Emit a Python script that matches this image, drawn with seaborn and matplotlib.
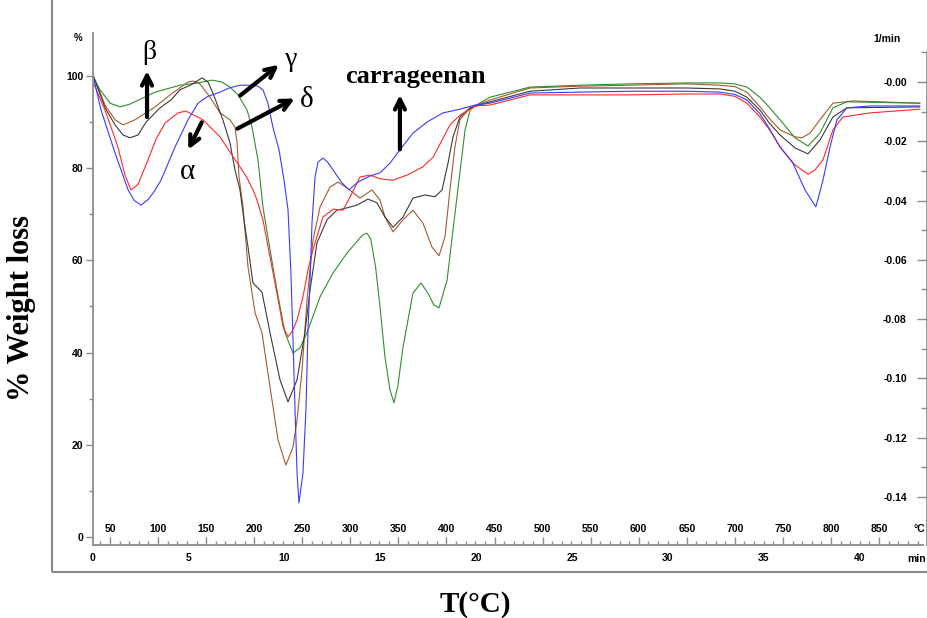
import numpy as np
import pandas as pd
import matplotlib
matplotlib.use("Agg")
import matplotlib.pyplot as plt
import seaborn as sns
from matplotlib.patches import Rectangle
from matplotlib.ticker import FixedLocator

# --- values: time (min) and signal on the % scale ---
carr_t = [0, 0.42, 1.15, 1.83, 2.15, 2.51, 2.9, 3.2, 3.55, 4.28, 4.96, 5.48, 6.0, 6.63, 7.1, 7.67,
          8.35, 8.6, 8.87, 9.13, 9.39, 9.71, 9.97, 10.18, 10.33, 10.44, 10.54, 10.65, 10.75, 10.96,
          11.12, 11.22, 11.33, 11.43, 11.59, 11.74, 12.00, 12.25, 12.53, 13.00, 13.36, 13.83,
          14.46, 14.98, 15.50, 16.02, 16.70, 17.43, 18.27, 19.15, 19.94, 20.72, 22.81, 25.42,
          28.03, 31.00, 32.72, 33.5, 34.13, 34.81, 35.3, 35.86, 36.53, 37.16, 37.73, 38.10,
          38.47, 38.83, 39.35, 40.55, 43.16]
carr_w = [100.2, 92.6, 83.3, 75.3, 73.0, 72.0, 73.3, 75.0, 77.4, 84.6, 90.5, 94.1, 95.6, 96.5, 97.4, 98.0,
          98.0, 97.8, 97.0, 94.1, 88.9, 84.0, 77.4, 70.9, 57.3, 42.7, 28.2, 13.9, 7.4, 13.9,
          28.2, 44.9, 55.7, 68.1, 78.1, 81.3, 82.2, 81.3, 79.6, 76.8, 75.3, 77.0,
          78.3, 79.0, 81.1, 84.0, 87.6, 90.0, 92.0, 92.8, 93.7, 94.1, 96.3, 96.5,
          96.7, 96.7, 96.5, 96.0, 94.8, 91.8, 88.6, 84.6, 81.1, 75.3, 71.6, 77.4,
          84.6, 90.5, 93.1, 93.5, 93.5]

alpha_t = [0, 0.63, 1.30, 1.67, 1.98, 2.35, 2.87, 3.3, 3.76, 4.44, 4.85, 5.74, 6.63, 7.15, 7.67, 8.04,
           8.35, 8.56, 8.87, 9.24, 9.60, 9.92, 10.18, 10.4, 10.65, 10.96, 11.22, 11.48, 12.00, 12.53,
           13.05, 13.52, 13.94, 14.46, 14.98, 15.66, 16.39, 17.22, 17.75, 18.22, 18.63, 19.15,
           19.94, 20.72, 22.81, 25.42, 28.03, 31.00, 32.72, 33.5, 34.13, 34.81, 35.3, 35.86, 36.64,
           37.32, 37.68, 38.10, 38.62, 39.14, 40.55, 43.16]
alpha_w = [98.7, 92.6, 84.6, 78.5, 75.3, 76.5, 81.8, 86.4, 89.8, 92.0, 92.4, 90.5, 86.8, 83.5, 80.3, 77.9,
           75.3, 73.1, 68.8, 60.7, 52.9, 45.6, 43.4, 44.6, 47.1, 52.1, 57.9, 62.3, 69.4, 71.1,
           70.9, 74.6, 78.1, 78.5, 77.7, 77.4, 78.5, 80.3, 82.4, 86.1, 89.4, 91.5,
           93.5, 93.7, 95.9, 95.9, 95.9, 96.1, 96.1, 95.6, 94.1, 91.1, 88.4, 84.6, 80.7,
           78.7, 79.6, 81.8, 88.3, 91.1, 92.0, 92.8]

beta_t = [0, 0.63, 1.15, 1.57, 1.93, 2.35, 2.77, 3.50, 4.07, 4.54, 5.22, 5.69, 6.00, 6.26, 6.78,
          7.15, 7.41, 7.67, 7.88, 8.09, 8.35, 8.61, 8.82, 9.24, 9.76, 10.18, 10.65, 11.06, 11.33,
          11.69, 12.21, 12.73, 13.26, 13.78, 14.35, 14.82, 15.24, 15.66, 16.18, 16.70, 17.33,
          17.85, 18.22, 18.53, 18.79, 19.15, 19.68, 20.72, 22.81, 25.42, 28.03, 31.00, 32.72,
          33.5, 34.13, 34.81, 35.3, 35.86, 36.64, 37.32, 37.94, 38.62, 39.35, 43.16]
beta_w = [100.2, 93.1, 89.4, 87.2, 86.6, 87.2, 90.0, 93.1, 94.8, 97.0, 98.3, 99.6, 98.7, 96.3, 90.5,
          85.5, 79.6, 75.3, 68.8, 62.9, 55.1, 54.0, 53.1, 44.3, 34.1, 29.3, 34.1, 44.3, 53.6,
          63.8, 68.8, 70.9, 71.4, 72.0, 73.3, 72.5, 69.4, 67.2, 69.4, 73.5, 74.2,
          73.8, 75.3, 81.1, 86.8, 91.1, 93.1, 94.4, 96.7, 97.4, 97.4, 97.4, 97.2,
          96.7, 95.4, 92.6, 89.8, 87.2, 84.4, 83.1, 86.1, 91.1, 93.1, 93.3]

gamma_t = [0, 0.37, 0.89, 1.41, 1.93, 3.24, 4.54, 5.48, 6.21, 6.73, 7.15, 7.57, 8.04, 8.30, 8.61,
           8.87, 9.24, 9.60, 10.02, 10.44, 10.80, 11.17, 11.85, 12.53, 13.26, 13.94, 14.1, 14.30,
           14.5, 14.75, 14.98, 15.24, 15.50, 15.71, 15.92, 16.18, 16.70, 17.12, 17.48, 17.80,
           18.06, 18.48, 18.79, 19.15, 19.42, 19.68, 20.09, 20.72, 22.81, 25.42, 28.03, 31.00,
           32.72, 33.5, 34.13, 34.81, 35.3, 35.86, 36.64, 37.32, 37.94, 38.62, 39.35, 43.16]
gamma_w = [99.8, 97.0, 94.1, 93.3, 93.9, 96.5, 98.0, 98.5, 99.1, 98.7, 97.6, 95.9, 92.6, 88.9, 81.8,
           71.6, 62.3, 53.6, 44.3, 39.9, 41.0, 44.3, 52.1, 57.3, 61.6, 64.9, 65.6, 65.9,
           64.6, 58.5, 49.9, 39.0, 31.9, 29.1, 33.0, 41.2, 52.9, 55.1, 52.9, 50.3,
           49.7, 55.7, 66.6, 79.0, 88.3, 92.6, 93.9, 95.4, 97.6, 98.0, 98.3, 98.5,
           98.5, 98.3, 97.6, 95.4, 93.2, 90.5, 86.6, 84.8, 87.6, 93.1, 94.4, 94.1]

delta_t = [0, 0.63, 1.15, 1.57, 2.19, 3.24, 4.02, 4.96, 5.22, 5.58, 6.11, 6.63, 7.15, 7.41, 7.52,
           7.62, 7.83, 8.09, 8.46, 8.82, 9.24, 9.66, 10.07, 10.44, 10.65, 10.91, 11.17, 11.48,
           11.85, 12.37, 12.79, 13.26, 13.94, 14.56, 14.98, 15.24, 15.66, 16.18, 16.70, 17.22,
           17.69, 18.06, 18.37, 18.63, 18.89, 19.15, 19.68, 20.72, 22.81, 25.42, 28.03, 31.00,
           32.72, 33.5, 34.13, 34.81, 35.3, 35.86, 36.64, 37.00, 37.42, 37.94, 38.62, 39.67, 43.16]
delta_w = [100.2, 93.7, 90.5, 89.4, 90.5, 93.3, 95.9, 98.7, 98.9, 98.3, 95.4, 92.0, 90.5, 88.9, 85.5,
           78.1, 71.6, 58.6, 48.6, 44.3, 32.5, 21.0, 15.6, 19.5, 25.4, 36.2, 51.4, 64.4,
           71.6, 75.9, 77.0, 75.7, 73.5, 75.3, 73.1, 69.4, 66.2, 68.8, 70.9, 68.1,
           62.9, 61.0, 65.1, 75.3, 84.6, 90.5, 93.1, 94.8, 97.4, 97.8, 98.0, 98.3,
           98.0, 97.7, 96.5, 93.3, 90.8, 88.3, 86.8, 86.6, 87.6, 90.5, 94.1, 94.6, 94.1]

samples = ["carrageenan", "α", "β", "γ", "δ"]
colors = {"carrageenan": "#3b3bff", "α": "#ff2b2b", "β": "#3a3a3a",
          "γ": "#2f8f2f", "δ": "#a65b2e"}

left_ticks = [0, 20, 40, 60, 80, 100]
time_ticks = [0, 5, 10, 15, 20, 25, 30, 35, 40]
temp_ticks = list(range(50, 900, 50))
dtg_ticks = [0.0, -0.02, -0.04, -0.06, -0.08, -0.10, -0.12, -0.14]
dtg_labels = ["-0.00", "-0.02", "-0.04", "-0.06", "-0.08", "-0.10", "-0.12", "-0.14"]

# heating program: T = T0 + rate * t
T0, rate = 32.3, 19.93

frames = []
for name, t, w in zip(samples, [carr_t, alpha_t, beta_t, gamma_t, delta_t],
                      [carr_w, alpha_w, beta_w, gamma_w, delta_w]):
    frames.append(pd.DataFrame({"t": t, "w": w, "sample": name}))
df = pd.concat(frames, ignore_index=True)

sns.set_theme(style="white", rc={"text.color": "black", "xtick.color": "black",
                                 "ytick.color": "black", "axes.labelcolor": "black"})
plt.rcParams["font.family"] = ["Liberation Sans", "DejaVu Sans"]

fig = plt.figure(figsize=(9.28, 6.18), dpi=100)
W, H = 928, 618
ax = fig.add_axes([93 / W, 73 / H, 834 / W, 512 / H])

sns.lineplot(data=df, x="t", y="w", hue="sample", palette=colors, hue_order=samples[::-1],
             estimator=None, sort=False, lw=0.8, legend=False, ax=ax)

ax.set_xlim(0, 43.53)
ax.set_ylim(-1.74, 109.33)
ax.set_xlabel("")
ax.set_ylabel("")

grey = "#8c8c8c"
for s in ["top", "right"]:
    ax.spines[s].set_visible(False)
for s in ["left", "bottom"]:
    ax.spines[s].set_color(grey)
    ax.spines[s].set_linewidth(1.3)
ax.spines["bottom"].set_bounds(0, 43.3)

ax.set_yticks(left_ticks)
ax.yaxis.set_minor_locator(FixedLocator([10, 30, 50, 70, 90]))
ax.tick_params(axis="y", which="major", direction="out", length=5, width=1, color=grey,
               labelcolor="black", pad=2, labelsize=7.5, left=True)
ax.tick_params(axis="y", which="minor", direction="out", length=3, width=1, color=grey, left=True)
ax.set_xticks(time_ticks)
ax.tick_params(axis="x", which="major", length=0, pad=6, labelsize=7.5, labelcolor="black")
plt.setp(ax.get_xticklabels() + ax.get_yticklabels(), fontweight="bold")

# temperature scale drawn inside, above the time axis
secax = ax.secondary_xaxis("bottom", functions=(lambda t: T0 + rate * t, lambda T: (T - T0) / rate))
secax.set_xticks(temp_ticks)
secax.xaxis.set_minor_locator(FixedLocator([T for T in range(40, 900, 10) if T % 50]))
secax.tick_params(which="major", direction="in", length=6, width=1, color=grey, pad=-15,
                  labelsize=7.5, labelcolor="black")
secax.tick_params(which="minor", direction="in", length=3, width=1, color=grey)
secax.spines["bottom"].set_visible(False)
plt.setp(secax.get_xticklabels(), fontweight="bold")

# DTG scale on the right, labels inside
ax2 = ax.twinx()
ax2.set_ylim(-0.1562, 0.01653)
for s in ["top", "left", "bottom"]:
    ax2.spines[s].set_visible(False)
ax2.spines["right"].set_color(grey)
ax2.spines["right"].set_linewidth(1.3)
ax2.spines["right"].set_bounds(-0.1562, 0.0102)
ax2.set_yticks(dtg_ticks)
ax2.set_yticklabels(dtg_labels)
ax2.yaxis.set_minor_locator(FixedLocator([0.01, -0.01, -0.03, -0.05, -0.07, -0.09, -0.11, -0.13]))
ax2.tick_params(axis="y", which="major", direction="in", length=7, width=1, color=grey,
                pad=-14.5, labelsize=7.5, labelcolor="black", right=True)
ax2.tick_params(axis="y", which="minor", direction="in", length=4, width=1, color=grey, right=True)
plt.setp(ax2.get_yticklabels(), fontweight="bold", ha="right")
ax2.grid(False)
ax.grid(False)

# unit labels
fig.text(78 / W, 1 - 38 / H, "%", fontsize=7, fontweight="bold", ha="center", va="center")
fig.text(887 / W, 1 - 39 / H, "1/min", fontsize=7.5, fontweight="bold", ha="center", va="center")
fig.text(917 / W, 1 - 559 / H, "min", fontsize=7.5, fontweight="bold", ha="center", va="center")
fig.text(919 / W, 1 - 529 / H, "°C", fontsize=7.5, fontweight="bold", ha="center", va="center")

# sample annotations
serif = ["Liberation Serif", "DejaVu Serif"]
arrow = dict(arrowstyle="->", lw=3, color="black", mutation_scale=18)
ax.annotate("", xy=(2.82, 101.7), xytext=(2.82, 90.5), arrowprops=arrow)
ax.text(2.92, 105.0, "β", fontsize=20, family=serif, ha="center", va="center")
ax.annotate("", xy=(4.91, 83.5), xytext=(5.74, 90.5), arrowprops=arrow)
ax.text(4.91, 79.2, "α", fontsize=21, family=serif, ha="center", va="center")
ax.annotate("", xy=(9.81, 102.8), xytext=(7.57, 95.4), arrowprops=arrow)
ax.text(10.33, 103.5, "γ", fontsize=20, family=serif, ha="center", va="center")
ax.annotate("", xy=(10.65, 95.4), xytext=(7.41, 88.3), arrowprops=arrow)
ax.text(11.17, 94.8, "δ", fontsize=21, family=serif, ha="center", va="center")
ax.annotate("", xy=(16.02, 96.5), xytext=(16.02, 83.5), arrowprops=arrow)
ax.text(16.81, 99.8, "carrageenan", fontsize=19, fontweight="bold", family=serif,
        ha="center", va="center")

# axis titles
fig.text(22 / W, 1 - 308 / H, "% Weight loss", rotation=90, fontsize=22, fontweight="bold",
         family=serif, ha="center", va="center")
fig.text(475 / W, 1 - 604 / H, "T(°C)", fontsize=21, fontweight="bold", family=serif,
         ha="center", va="center")

# frame of the original screenshot
fig.add_artist(Rectangle((52 / W, 46 / H), 900 / W, 1.0, transform=fig.transFigure,
                         fill=False, edgecolor="#8a8a8a", lw=1.5))

fig.savefig("out.png", dpi=100)
